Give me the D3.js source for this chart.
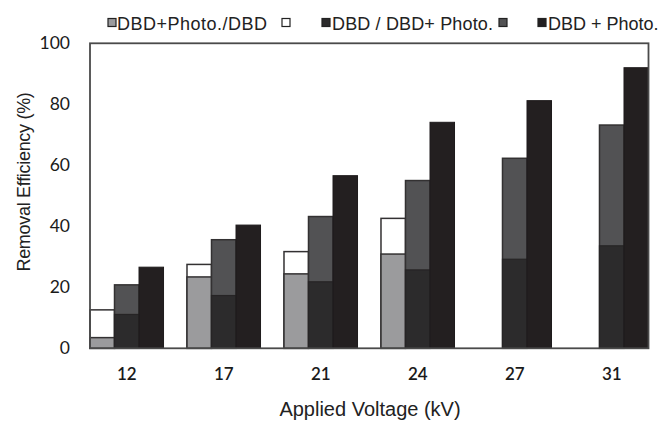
<!DOCTYPE html>
<html>
<head>
<meta charset="utf-8">
<script src="https://cdn.jsdelivr.net/npm/d3@7"></script>
<style>
  html, body { margin: 0; padding: 0; background: #fff; }
  svg { display: block; }
</style>
</head>
<body>
<svg id="chart" width="659" height="423"></svg>
<script>
// ---- data ----
const categories = ["12", "17", "21", "24", "27", "31"];
// bar 1: light grey lower part and white upper part (total height)
const bar1Lower = [3.5, 23.4, 24.4, 30.9, null, null];
const bar1Total = [12.6, 27.5, 31.7, 42.6, null, null];
// bar 2: dark lower part (DBD) and mid-grey upper part (DBD+Photo.)
const bar2Lower = [11.1, 17.3, 21.8, 25.7, 29.2, 33.6];
const bar2Total = [20.8, 35.6, 43.2, 55.0, 62.3, 73.2];
// bar 3: DBD + Photo.
const bar3 = [26.6, 40.4, 56.6, 74.1, 81.2, 92.0];
const yTicks = [0, 20, 40, 60, 80, 100];
const legendTexts = ["DBD+Photo./DBD", "DBD / DBD+ Photo.", "DBD + Photo."];

(function () {
  // ---- styles ----
  const C = {
    light: "#9b9b9d",
    white: "#ffffff",
    darkLow: "#2c2b2c",
    mid: "#525254",
    black: "#231f20",
    outline: "#333132"
  };

  const svg = d3.select("#chart");
  const pL = 90, pR = 648.5, pT = 43.3, pB = 348.3;

  const x0 = d3.scaleBand().domain(categories).range([pL, pR]).paddingInner(0.242).paddingOuter(0);
  const x1 = d3.scaleBand().domain([0, 1, 2]).range([0, x0.bandwidth()]);
  const y = d3.scaleLinear().domain([0, 100]).range([pB, pT]);

  const rows = categories.map((c, i) => ({
    c, l1: bar1Lower[i], t1: bar1Total[i], l2: bar2Lower[i], t2: bar2Total[i], b3: bar3[i]
  }));

  const g = svg.append("g");

  // bar 1 (white total then grey lower)
  const r1 = rows.filter(d => d.t1 != null);
  g.append("g").selectAll("rect").data(r1).join("rect")
    .attr("x", d => x0(d.c) + x1(0))
    .attr("width", x1.bandwidth())
    .attr("y", d => y(d.t1))
    .attr("height", d => y(0) - y(d.t1))
    .attr("fill", C.white).attr("stroke", C.outline).attr("stroke-width", 1.5);
  g.append("g").selectAll("rect").data(r1).join("rect")
    .attr("x", d => x0(d.c) + x1(0))
    .attr("width", x1.bandwidth())
    .attr("y", d => y(d.l1))
    .attr("height", d => y(0) - y(d.l1))
    .attr("fill", C.light).attr("stroke", C.outline).attr("stroke-width", 1.5);

  // bar 2 (mid-grey total then dark lower)
  g.append("g").selectAll("rect").data(rows).join("rect")
    .attr("x", d => x0(d.c) + x1(1))
    .attr("width", x1.bandwidth())
    .attr("y", d => y(d.t2))
    .attr("height", d => y(0) - y(d.t2))
    .attr("fill", C.mid).attr("stroke", C.outline).attr("stroke-width", 1.5);
  g.append("g").selectAll("rect").data(rows).join("rect")
    .attr("x", d => x0(d.c) + x1(1))
    .attr("width", x1.bandwidth())
    .attr("y", d => y(d.l2))
    .attr("height", d => y(0) - y(d.l2))
    .attr("fill", C.darkLow).attr("stroke", "#262425").attr("stroke-width", 1.2);

  // bar 3
  g.append("g").selectAll("rect").data(rows).join("rect")
    .attr("x", d => x0(d.c) + x1(2))
    .attr("width", x1.bandwidth())
    .attr("y", d => y(d.b3))
    .attr("height", d => y(0) - y(d.b3))
    .attr("fill", C.black).attr("stroke", "#1e1b1c").attr("stroke-width", 1);

  // frame
  svg.append("rect")
    .attr("x", pL).attr("y", pT)
    .attr("width", pR - pL).attr("height", pB - pT)
    .attr("fill", "none").attr("stroke", "#4a4a4a").attr("stroke-width", 1.8);

  // y axis
  const yAxis = d3.axisLeft(y).tickValues(yTicks).tickSize(0).tickPadding(20);
  const ya = svg.append("g").attr("transform", `translate(${pL},0)`).call(yAxis);
  ya.select(".domain").remove();
  ya.selectAll("text")
    .attr("font-family", "Lato, 'Open Sans', sans-serif")
    .attr("font-size", 17.5).attr("fill", "#1a1a1a");

  // x axis
  const xAxis = d3.axisBottom(x0).tickSize(0).tickPadding(20);
  const xa = svg.append("g").attr("transform", `translate(0,${pB})`).call(xAxis);
  xa.select(".domain").remove();
  xa.selectAll("text")
    .attr("font-family", "Lato, 'Open Sans', sans-serif")
    .attr("font-size", 17).attr("font-weight", 600).attr("fill", "#1a1a1a");

  // axis titles
  svg.append("text")
    .attr("x", 370).attr("y", 416)
    .attr("text-anchor", "middle")
    .attr("font-family", "'Liberation Sans', Arial, sans-serif")
    .attr("font-size", 20).attr("fill", "#222")
    .text("Applied Voltage (kV)");

  svg.append("text")
    .attr("transform", `translate(30,182) rotate(-90)`)
    .attr("text-anchor", "middle")
    .attr("font-family", "'Liberation Sans', Arial, sans-serif")
    .attr("font-size", 18).attr("letter-spacing", -0.3).attr("fill", "#222")
    .text("Removal Efficiency (%)");

  // legend
  const lg = svg.append("g")
    .attr("font-family", "'Liberation Sans', Arial, sans-serif")
    .attr("font-size", 18).attr("fill", "#222");
  const sw = [
    { x: 108, fill: C.light },
    { x: 282, fill: C.white },
    { x: 322, fill: C.darkLow },
    { x: 499, fill: C.mid },
    { x: 538, fill: C.black }
  ];
  lg.selectAll("rect").data(sw).join("rect")
    .attr("x", d => d.x).attr("y", 18.5)
    .attr("width", 8).attr("height", 8)
    .attr("fill", d => d.fill).attr("stroke", "#222").attr("stroke-width", 1.2);
  const tx = [117, 332, 548];
  const tw = [150, 161, null];
  lg.selectAll("text").data(legendTexts).join("text")
    .attr("x", (d, i) => tx[i]).attr("y", 30)
    .text(d => d)
    .each(function (d, i) {
      if (tw[i]) {
        d3.select(this).attr("textLength", tw[i]).attr("lengthAdjust", "spacing");
      }
    });
})();
</script>
</body>
</html>
